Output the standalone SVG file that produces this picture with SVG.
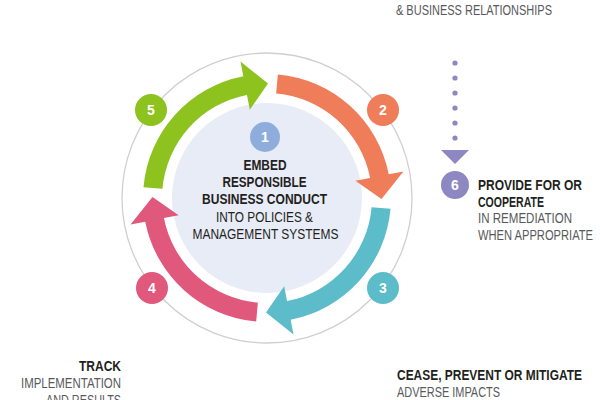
<svg xmlns="http://www.w3.org/2000/svg" width="600" height="400" viewBox="0 0 600 400">
<style>
.t{font-family:"Liberation Sans",Arial,sans-serif;font-size:14px;fill:#231f20}
.b{font-weight:bold}
.g{fill:#58595b}
.n{font-family:"Liberation Sans",Arial,sans-serif;font-size:14px;font-weight:bold;fill:#fff;text-anchor:middle}
.c{text-anchor:middle}
.r{text-anchor:end}
</style>
<defs>
<path id="arr" d="M277.81,74.47 A124,124 0 0 1 388.72,174.34 L403.45,171.48 L381.5,199 L355.35,180.83 L370.07,177.96 A105,105 0 0 0 276.15,93.40 Z"/>
</defs>
<rect width="600" height="400" fill="#fff"/>
<circle cx="267" cy="198" r="145" fill="none" stroke="#cfcfcf" stroke-width="1.3"/>
<g id="node1">
<circle cx="267" cy="198" r="95" fill="#e8ecf7"/>
<circle cx="265" cy="137" r="15" fill="#8eaddc"/>
<text class="n" x="265" y="142">1</text>
<text class="t b c" x="265" y="170" textLength="43" lengthAdjust="spacingAndGlyphs">EMBED</text>
<text class="t b c" x="264.5" y="187" textLength="84" lengthAdjust="spacingAndGlyphs">RESPONSIBLE</text>
<text class="t b c" x="264.5" y="204" textLength="125" lengthAdjust="spacingAndGlyphs">BUSINESS CONDUCT</text>
<text class="t c" x="264.5" y="222" textLength="97" lengthAdjust="spacingAndGlyphs">INTO POLICIES &amp;</text>
<text class="t c" x="265.5" y="239" textLength="146" lengthAdjust="spacingAndGlyphs">MANAGEMENT SYSTEMS</text>
</g>
<g id="connectors">
<use href="#arr" fill="#ef7d5a"/>
<use href="#arr" fill="#5cbcc9" transform="rotate(90 267 198)"/>
<use href="#arr" fill="#e0587c" transform="rotate(180 267 198)"/>
<use href="#arr" fill="#8dc21f" transform="rotate(270 267 198)"/>
<g fill="#8e88c2">
<circle cx="455" cy="63" r="2.6"/>
<circle cx="455" cy="78" r="2.6"/>
<circle cx="455" cy="93" r="2.6"/>
<circle cx="455" cy="108" r="2.6"/>
<circle cx="455" cy="123" r="2.6"/>
<circle cx="455" cy="138" r="2.6"/>
<polygon points="441,150 469,150 455,164"/>
</g>
</g>
<g id="node2">
<circle cx="383" cy="110" r="16" fill="#ef7d5a"/>
<text class="n" x="383" y="115">2</text>
<text class="t g" x="396" y="15" textLength="156" lengthAdjust="spacingAndGlyphs">&amp; BUSINESS RELATIONSHIPS</text>
</g>
<g id="node3">
<circle cx="383" cy="288" r="16" fill="#5cbcc9"/>
<text class="n" x="383" y="293">3</text>
<text class="t b" x="397" y="380" textLength="185" lengthAdjust="spacingAndGlyphs">CEASE, PREVENT OR MITIGATE</text>
<text class="t g" x="397" y="397" textLength="103" lengthAdjust="spacingAndGlyphs">ADVERSE IMPACTS</text>
</g>
<g id="node4">
<circle cx="152" cy="288" r="16" fill="#e0587c"/>
<text class="n" x="152" y="293">4</text>
<text class="t b r" x="121" y="371" textLength="42" lengthAdjust="spacingAndGlyphs">TRACK</text>
<text class="t g r" x="121" y="388" textLength="100" lengthAdjust="spacingAndGlyphs">IMPLEMENTATION</text>
<text class="t g r" x="121" y="405" textLength="75" lengthAdjust="spacingAndGlyphs">AND RESULTS</text>
</g>
<g id="node5">
<circle cx="151" cy="110" r="16" fill="#8dc21f"/>
<text class="n" x="151" y="115">5</text>
</g>
<g id="node6">
<circle cx="455" cy="185" r="14" fill="#8e88c2"/>
<text class="n" x="455" y="190">6</text>
<text class="t b" x="478" y="190" textLength="104" lengthAdjust="spacingAndGlyphs">PROVIDE FOR OR</text>
<text class="t b" x="478" y="207" textLength="66" lengthAdjust="spacingAndGlyphs">COOPERATE</text>
<text class="t g" x="478" y="223" textLength="94" lengthAdjust="spacingAndGlyphs">IN REMEDIATION</text>
<text class="t g" x="478" y="240" textLength="115" lengthAdjust="spacingAndGlyphs">WHEN APPROPRIATE</text>
</g>
</svg>
